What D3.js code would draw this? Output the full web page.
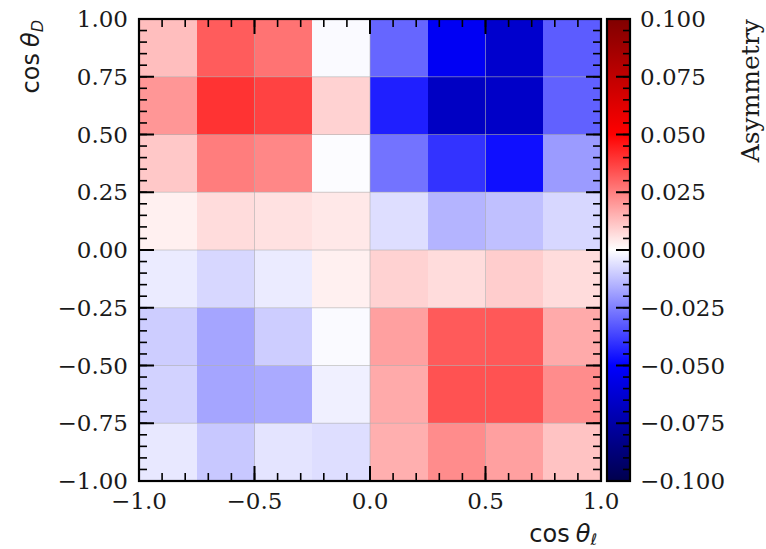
<!DOCTYPE html>
<html>
<head>
<meta charset="utf-8">
<script src="https://cdn.jsdelivr.net/npm/d3@7"></script>
<style>
body { margin: 0; background: #fff; }
text { fill: #1a1a1a; }
.tick-label { font-family: "DejaVu Serif", serif; font-size: 23px; }
.math-label { font-family: "DejaVu Sans", sans-serif; font-size: 24px; }
</style>
</head>
<body>
<svg width="766" height="549"></svg>
<script>
// bin edges of cos(theta_l) and cos(theta_D)
var lepEdges = [-1.0, -0.75, -0.5, -0.25, 0.0, 0.25, 0.5, 0.75, 1.0];
var dEdges = [-1.0, -0.75, -0.5, -0.25, 0.0, 0.25, 0.5, 0.75, 1.0];

// asymmetry per bin, one row per cos(theta_D) bin, from the top row (0.75..1) down
var rowD8 = [0.0127, 0.0320, 0.0275, -0.0010, -0.0300, -0.0530, -0.0640, -0.0320];
var rowD7 = [0.0206, 0.0400, 0.0370, 0.0088, -0.0440, -0.0668, -0.0655, -0.0310];
var rowD6 = [0.0108, 0.0255, 0.0235, -0.0005, -0.0275, -0.0400, -0.0470, -0.0196];
var rowD5 = [0.0030, 0.0069, 0.0059, 0.0045, -0.0065, -0.0147, -0.0124, -0.0078];
var rowD4 = [-0.0040, -0.0078, -0.0040, 0.0030, 0.0088, 0.0069, 0.0098, 0.0069];
var rowD3 = [-0.0098, -0.0176, -0.0098, -0.0010, 0.0186, 0.0324, 0.0327, 0.0167];
var rowD2 = [-0.0088, -0.0176, -0.0167, -0.0030, 0.0167, 0.0340, 0.0340, 0.0225];
var rowD1 = [-0.0045, -0.0108, -0.0053, -0.0065, 0.0157, 0.0225, 0.0186, 0.0118];
var asymmetry = [rowD8, rowD7, rowD6, rowD5, rowD4, rowD3, rowD2, rowD1];

var xTicks = [-1.0, -0.5, 0.0, 0.5, 1.0];
var yTicks = [-1.0, -0.75, -0.5, -0.25, 0.0, 0.25, 0.5, 0.75, 1.0];
var cbarTicks = [-0.1, -0.075, -0.05, -0.025, 0.0, 0.025, 0.05, 0.075, 0.1];

var plot = {left: 139, right: 601, top: 19, bottom: 481};
var cbar = {left: 607, right: 630};

var svg = d3.select("svg");

var x = d3.scaleLinear().domain([-1, 1]).range([plot.left, plot.right]);
var y = d3.scaleLinear().domain([-1, 1]).range([plot.bottom, plot.top]);
var cy = d3.scaleLinear().domain([-0.1, 0.1]).range([plot.bottom, plot.top]);

// matplotlib "seismic"
var color = d3.scaleLinear()
    .domain([-0.1, -0.05, 0, 0.05, 0.1])
    .range(["rgb(0,0,77)", "rgb(0,0,255)", "rgb(255,255,255)", "rgb(255,0,0)", "rgb(128,0,0)"])
    .clamp(true);

// cells
var cells = [];
asymmetry.forEach(function (row, i) {
    var j0 = dEdges.length - 2 - i;
    row.forEach(function (v, k) {
        cells.push({x0: lepEdges[k], x1: lepEdges[k + 1], y0: dEdges[j0], y1: dEdges[j0 + 1], v: v});
    });
});

svg.append("g").selectAll("rect")
    .data(cells)
    .enter().append("rect")
    .attr("x", function (d) { return x(d.x0); })
    .attr("y", function (d) { return y(d.y1); })
    .attr("width", function (d) { return x(d.x1) - x(d.x0) + 0.5; })
    .attr("height", function (d) { return y(d.y0) - y(d.y1) + 0.5; })
    .attr("fill", function (d) { return color(d.v); })
    .attr("shape-rendering", "crispEdges");

// grid at major ticks
var grid = svg.append("g").attr("stroke", "#b0b0b0").attr("stroke-opacity", 0.6).attr("stroke-width", 1);
xTicks.slice(1, -1).forEach(function (t) {
    grid.append("line").attr("x1", x(t)).attr("x2", x(t)).attr("y1", plot.top).attr("y2", plot.bottom);
});
yTicks.slice(1, -1).forEach(function (t) {
    grid.append("line").attr("y1", y(t)).attr("y2", y(t)).attr("x1", plot.left).attr("x2", plot.right);
});

// inward ticks on all four sides
var xMinor = d3.range(-10, 11).map(function (i) { return i / 10; });
var yMinor = d3.range(-20, 21).map(function (i) { return i / 20; });
var ticks = svg.append("g").attr("stroke", "#000");

function addTicks(vals, len, w) {
    vals.forEach(function (t) {
        ticks.append("line").attr("stroke-width", w)
            .attr("x1", x(t)).attr("x2", x(t)).attr("y1", plot.bottom).attr("y2", plot.bottom - len);
        ticks.append("line").attr("stroke-width", w)
            .attr("x1", x(t)).attr("x2", x(t)).attr("y1", plot.top).attr("y2", plot.top + len);
    });
}
function addYTicks(vals, len, w) {
    vals.forEach(function (t) {
        ticks.append("line").attr("stroke-width", w)
            .attr("y1", y(t)).attr("y2", y(t)).attr("x1", plot.left).attr("x2", plot.left + len);
        ticks.append("line").attr("stroke-width", w)
            .attr("y1", y(t)).attr("y2", y(t)).attr("x1", plot.right).attr("x2", plot.right - len);
    });
}
addTicks(xMinor, 8, 1.6);
addTicks(xTicks, 15, 2);
addYTicks(yMinor, 8, 1.6);
addYTicks(yTicks, 15, 2);

svg.append("rect")
    .attr("x", plot.left).attr("y", plot.top)
    .attr("width", plot.right - plot.left).attr("height", plot.bottom - plot.top)
    .attr("fill", "none").attr("stroke", "#000").attr("stroke-width", 2.2);

// tick labels
svg.append("g").selectAll("text")
    .data(xTicks)
    .enter().append("text")
    .attr("class", "tick-label")
    .attr("x", function (d) { return x(d); })
    .attr("y", 509)
    .attr("text-anchor", "middle")
    .text(d3.format(".1f"));

svg.append("g").selectAll("text")
    .data(yTicks)
    .enter().append("text")
    .attr("class", "tick-label")
    .attr("x", 128)
    .attr("y", function (d) { return y(d) + 8; })
    .attr("text-anchor", "end")
    .text(d3.format(".2f"));

// axis labels
var xl = svg.append("text").attr("class", "math-label")
    .attr("x", 597).attr("y", 542).attr("text-anchor", "end");
xl.append("tspan").text("cos");
xl.append("tspan").attr("dx", 6).style("font-style", "italic").text("θ");
xl.append("tspan").attr("dy", 3).style("font-style", "italic").style("font-size", "16px").text("ℓ");

var yl = svg.append("text").attr("class", "math-label")
    .attr("transform", "translate(39,20) rotate(-90)").attr("text-anchor", "end");
yl.append("tspan").text("cos");
yl.append("tspan").attr("dx", 6).style("font-style", "italic").text("θ");
yl.append("tspan").attr("dy", 4).style("font-style", "italic").style("font-size", "16px").text("D");

// colorbar
var grad = svg.append("defs").append("linearGradient")
    .attr("id", "cbar-grad")
    .attr("x1", 0).attr("y1", 1).attr("x2", 0).attr("y2", 0);
d3.range(0, 41).forEach(function (i) {
    var v = -0.1 + i * 0.005;
    grad.append("stop").attr("offset", (i / 40)).attr("stop-color", color(v));
});
svg.append("rect")
    .attr("x", cbar.left).attr("y", cy(0.1))
    .attr("width", cbar.right - cbar.left).attr("height", cy(-0.1) - cy(0.1))
    .attr("fill", "url(#cbar-grad)");

var cMinor = d3.range(-20, 21).map(function (i) { return i * 0.005; });
cMinor.forEach(function (t) {
    svg.append("line").attr("stroke", "#000").attr("stroke-width", 1.6)
        .attr("y1", cy(t)).attr("y2", cy(t)).attr("x1", cbar.right).attr("x2", cbar.right - 7);
});
cbarTicks.forEach(function (t) {
    svg.append("line").attr("stroke", "#000").attr("stroke-width", 2)
        .attr("y1", cy(t)).attr("y2", cy(t)).attr("x1", cbar.right).attr("x2", cbar.right - 14);
});
svg.append("rect")
    .attr("x", cbar.left).attr("y", cy(0.1))
    .attr("width", cbar.right - cbar.left).attr("height", cy(-0.1) - cy(0.1))
    .attr("fill", "none").attr("stroke", "#000").attr("stroke-width", 2.2);

svg.append("g").selectAll("text")
    .data(cbarTicks)
    .enter().append("text")
    .attr("class", "tick-label")
    .attr("x", 640)
    .attr("y", function (d) { return cy(d) + 8; })
    .text(d3.format(".3f"));

svg.append("text")
    .attr("class", "tick-label")
    .style("font-size", "25px")
    .attr("transform", "translate(759,19) rotate(-90)")
    .attr("text-anchor", "end")
    .text("Asymmetry");
</script>
</body>
</html>
